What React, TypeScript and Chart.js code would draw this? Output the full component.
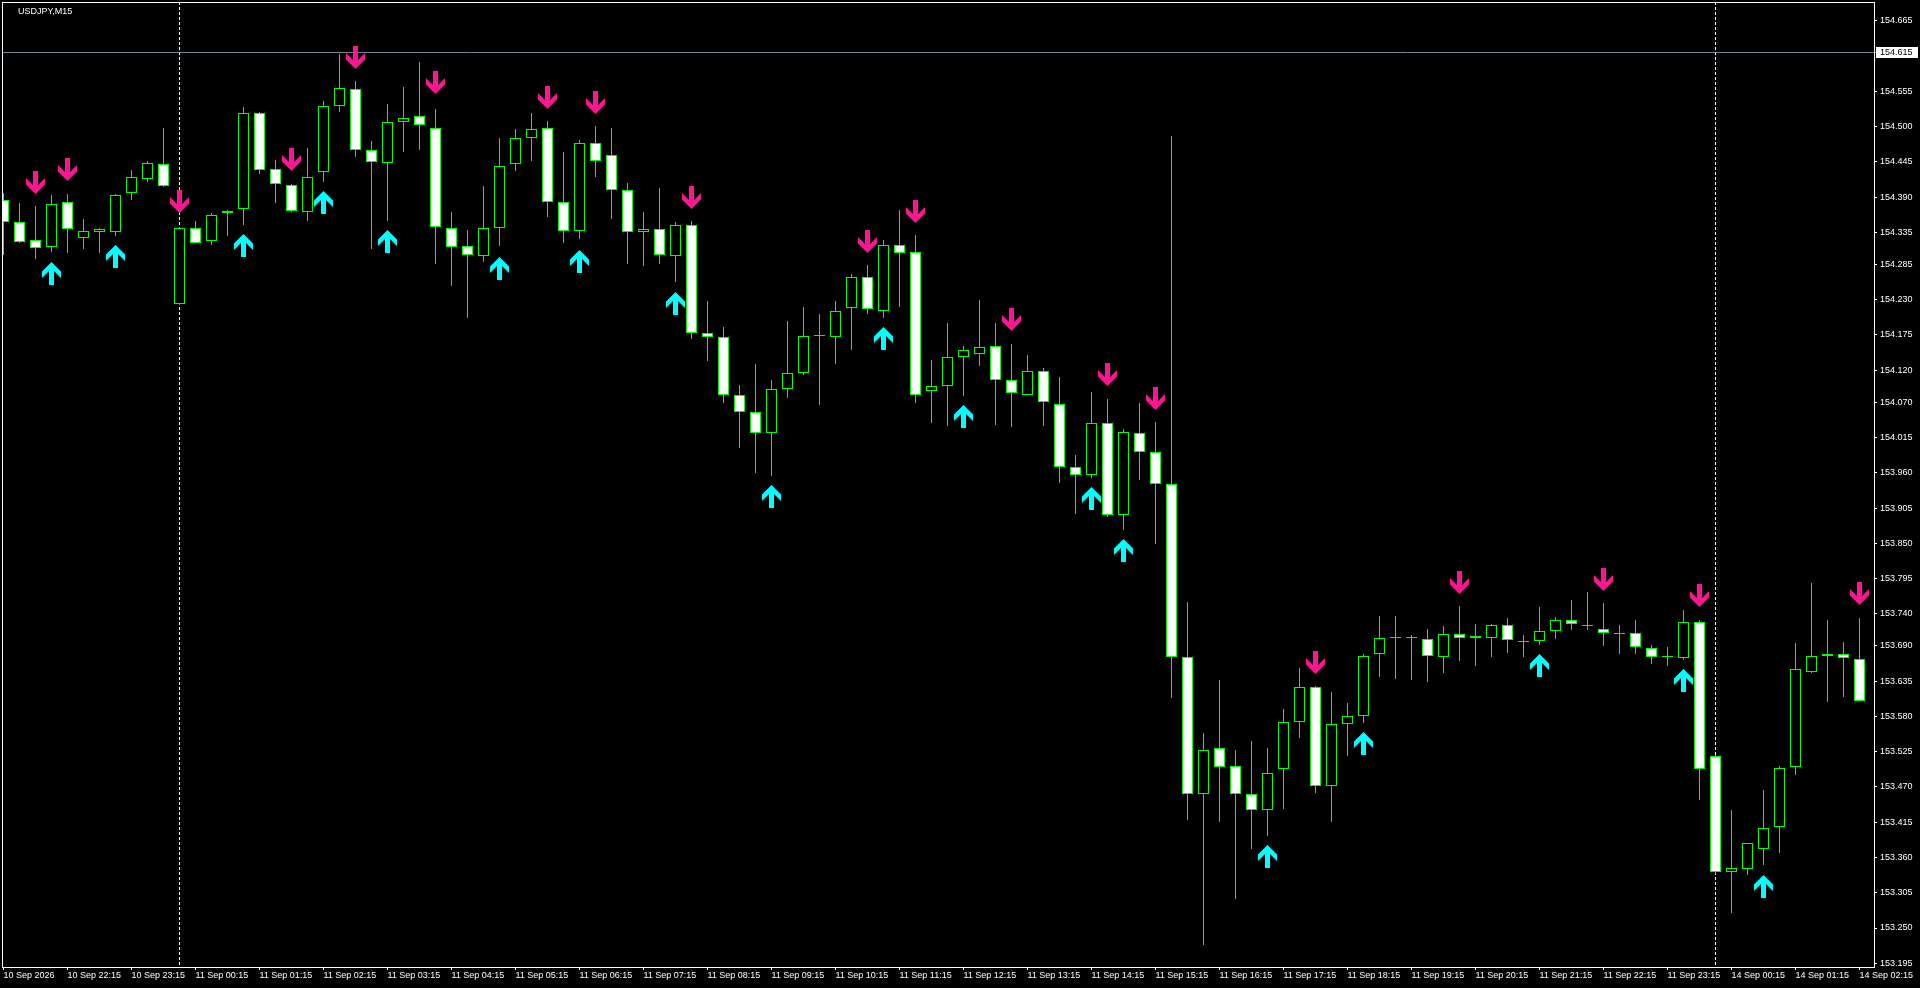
import React, { useEffect, useRef } from "react";
import { Chart, registerables } from "chart.js";

Chart.register(...registerables);

// ---- Data (USDJPY M15), bar 0 = 10 Sep 21:15 ----
const opens = [
  154.385, 154.351, 154.323, 154.312, 154.383, 154.326, 154.336, 154.336, 154.397, 154.418,
  154.441, 154.223, 154.341, 154.321, 154.369, 154.372, 154.521, 154.433, 154.409, 154.366,
  154.429, 154.532, 154.558, 154.464, 154.443, 154.507, 154.516, 154.497, 154.341, 154.313,
  154.298, 154.341, 154.441, 154.482, 154.497, 154.383, 154.337, 154.474, 154.455, 154.401,
  154.335, 154.340, 154.298, 154.346, 154.178, 154.171, 154.082, 154.054, 154.022, 154.090,
  154.115, 154.174, 154.171, 154.217, 154.266, 154.212, 154.316, 154.304, 154.087, 154.096,
  154.140, 154.146, 154.157, 154.104, 154.082, 154.118, 154.068, 153.969, 153.956, 154.037,
  153.894, 154.022, 153.992, 153.943, 153.672, 153.459, 153.530, 153.502, 153.459, 153.434,
  153.498, 153.572, 153.626, 153.472, 153.568, 153.581, 153.677, 153.703, 153.703, 153.700,
  153.673, 153.708, 153.703, 153.703, 153.722, 153.696, 153.697, 153.713, 153.730, 153.721,
  153.716, 153.708, 153.710, 153.686, 153.675, 153.671, 153.727, 153.519, 153.338, 153.342,
  153.374, 153.407, 153.501, 153.650, 153.675, 153.678, 153.669,
];
const highs = [
  154.397, 154.381, 154.376, 154.393, 154.395, 154.356, 154.341, 154.395, 154.432, 154.446,
  154.498, 154.344, 154.353, 154.365, 154.370, 154.530, 154.522, 154.448, 154.410, 154.467,
  154.540, 154.613, 154.571, 154.477, 154.535, 154.562, 154.600, 154.528, 154.366, 154.339,
  154.407, 154.482, 154.496, 154.521, 154.509, 154.460, 154.479, 154.501, 154.498, 154.412,
  154.367, 154.404, 154.351, 154.353, 154.228, 154.187, 154.097, 154.130, 154.105, 154.197,
  154.219, 154.208, 154.228, 154.270, 154.284, 154.323, 154.370, 154.331, 154.136, 154.194,
  154.158, 154.229, 154.194, 154.161, 154.144, 154.123, 154.110, 153.988, 154.086, 154.075,
  154.028, 154.069, 154.039, 154.485, 153.759, 153.554, 153.637, 153.528, 153.542, 153.531,
  153.592, 153.656, 153.627, 153.618, 153.601, 153.678, 153.737, 153.737, 153.707, 153.716,
  153.721, 153.752, 153.724, 153.724, 153.734, 153.707, 153.751, 153.735, 153.762, 153.774,
  153.757, 153.723, 153.730, 153.691, 153.688, 153.746, 153.730, 153.520, 153.434, 153.382,
  153.465, 153.502, 153.695, 153.788, 153.730, 153.696, 153.734,
];
const lows = [
  154.299, 154.319, 154.294, 154.305, 154.303, 154.309, 154.302, 154.330, 154.386, 154.414,
  154.406, 154.222, 154.319, 154.316, 154.330, 154.347, 154.426, 154.380, 154.367, 154.353,
  154.414, 154.523, 154.453, 154.309, 154.353, 154.461, 154.463, 154.285, 154.252, 154.202,
  154.289, 154.313, 154.430, 154.447, 154.359, 154.319, 154.324, 154.422, 154.355, 154.285,
  154.283, 154.285, 154.258, 154.169, 154.135, 154.069, 153.998, 153.960, 153.955, 154.076,
  154.112, 154.066, 154.130, 154.152, 154.207, 154.202, 154.219, 154.069, 154.037, 154.033,
  154.079, 154.127, 154.035, 154.032, 154.082, 154.033, 153.944, 153.895, 153.952, 153.891,
  153.870, 153.949, 153.849, 153.608, 153.418, 153.224, 153.415, 153.296, 153.374, 153.394,
  153.435, 153.547, 153.461, 153.416, 153.519, 153.569, 153.642, 153.639, 153.637, 153.634,
  153.648, 153.667, 153.659, 153.672, 153.679, 153.673, 153.692, 153.701, 153.715, 153.715,
  153.690, 153.678, 153.678, 153.661, 153.658, 153.668, 153.449, 153.335, 153.274, 153.332,
  153.349, 153.367, 153.488, 153.648, 153.603, 153.611, 153.604,
];
const closes = [
  154.351, 154.320, 154.310, 154.379, 154.340, 154.337, 154.340, 154.393, 154.421, 154.443,
  154.407, 154.341, 154.319, 154.362, 154.365, 154.521, 154.432, 154.411, 154.369, 154.421,
  154.532, 154.560, 154.464, 154.444, 154.507, 154.513, 154.502, 154.343, 154.312, 154.299,
  154.341, 154.439, 154.482, 154.496, 154.383, 154.337, 154.474, 154.447, 154.401, 154.335,
  154.340, 154.299, 154.346, 154.178, 154.171, 154.081, 154.054, 154.022, 154.090, 154.115,
  154.174, 154.174, 154.213, 154.266, 154.215, 154.316, 154.302, 154.082, 154.095, 154.140,
  154.151, 154.156, 154.104, 154.084, 154.118, 154.070, 153.969, 153.956, 154.037, 153.894,
  154.023, 153.992, 153.942, 153.672, 153.459, 153.527, 153.501, 153.459, 153.434, 153.491,
  153.572, 153.626, 153.472, 153.568, 153.581, 153.675, 153.703, 153.703, 153.703, 153.675,
  153.708, 153.703, 153.705, 153.722, 153.699, 153.697, 153.713, 153.730, 153.724, 153.722,
  153.710, 153.708, 153.688, 153.673, 153.672, 153.727, 153.498, 153.337, 153.343, 153.382,
  153.406, 153.499, 153.654, 153.675, 153.678, 153.671, 153.604,
];

// signal arrows (bar index, price at arrow tip)
const sellBars = [2, 4, 11, 18, 22, 27, 34, 37, 43, 54, 57, 63, 69, 72, 82, 91, 100, 106, 116];
const sellPrices = [
  154.394, 154.415, 154.365, 154.430, 154.589, 154.550, 154.528, 154.520, 154.371, 154.303,
  154.350, 154.181, 154.095, 154.058, 153.646, 153.771, 153.776, 153.751, 153.754,
];
const buyBars = [3, 7, 15, 20, 24, 31, 36, 42, 48, 55, 60, 68, 70, 79, 85, 96, 105, 110];
const buyPrices = [
  154.289, 154.316, 154.333, 154.400, 154.339, 154.297, 154.308, 154.242, 153.941, 154.187,
  154.065, 153.938, 153.856, 153.380, 153.555, 153.678, 153.654, 153.333,
];

// axis ticks
const xTickBars = [0, 4, 8, 12, 16, 20, 24, 28, 32, 36, 40, 44, 48, 52, 56, 60, 64, 68, 72, 76, 80, 84, 88, 92, 96, 100, 104, 108, 112, 116];
const xTickLabels = [
  "10 Sep 2026", "10 Sep 22:15", "10 Sep 23:15", "11 Sep 00:15", "11 Sep 01:15", "11 Sep 02:15",
  "11 Sep 03:15", "11 Sep 04:15", "11 Sep 05:15", "11 Sep 06:15", "11 Sep 07:15", "11 Sep 08:15",
  "11 Sep 09:15", "11 Sep 10:15", "11 Sep 11:15", "11 Sep 12:15", "11 Sep 13:15", "11 Sep 14:15",
  "11 Sep 15:15", "11 Sep 16:15", "11 Sep 17:15", "11 Sep 18:15", "11 Sep 19:15", "11 Sep 20:15",
  "11 Sep 21:15", "11 Sep 22:15", "11 Sep 23:15", "14 Sep 00:15", "14 Sep 01:15", "14 Sep 02:15",
];
const yTickValues = [
  154.665, 154.555, 154.5, 154.445, 154.39, 154.335, 154.285, 154.23, 154.175, 154.12,
  154.07, 154.015, 153.96, 153.905, 153.85, 153.795, 153.74, 153.69, 153.635, 153.58,
  153.525, 153.47, 153.415, 153.36, 153.305, 153.25, 153.195,
];
const daySeparators = [11, 107];
const symbolTitle = "USDJPY,M15";
const markedPrice = 154.615;

// visible range
const X_MIN = -0.09375;
const X_MAX = 116.90625;
const Y_MIN = 153.1892;
const Y_MAX = 154.6942;

const FONT = '"Liberation Sans", Arial, sans-serif';
const LIME = "#00ff00";

function makeArrow(down: boolean, color: string): HTMLCanvasElement {
  const c = document.createElement("canvas");
  c.width = 19;
  c.height = 48;
  const g = c.getContext("2d")!;
  const pts = [
    [9.5, 24], [19, 14.5], [19, 8], [12, 15], [12, 1], [7, 1], [7, 15], [0, 8], [0, 14.5],
  ];
  g.beginPath();
  pts.forEach(([x, y], k) => {
    const yy = down ? y : 48 - y;
    if (k === 0) g.moveTo(x, yy);
    else g.lineTo(x, yy);
  });
  g.closePath();
  g.fillStyle = color;
  g.fill();
  return c;
}

const snapPlugin = {
  id: "snap",
  beforeDatasetsDraw(chart: any) {
    chart.data.datasets.forEach((_ds: any, di: number) => {
      const meta = chart.getDatasetMeta(di);
      meta.data.forEach((el: any) => {
        if (meta.type === "bar") {
          const y = Math.round(el.y);
          let b = Math.round(el.base);
          if (y === b) b = y + 1;
          el.y = y;
          el.base = b;
        } else {
          el.y = Math.round(el.y);
        }
      });
    });
  },
};

const decorPlugin = {
  id: "decor",
  beforeDraw(chart: any) {
    const ctx = chart.ctx;
    ctx.save();
    ctx.fillStyle = "#000";
    ctx.fillRect(0, 0, chart.width, chart.height);
    ctx.restore();
  },
  beforeDatasetsDraw(chart: any) {
    const ctx = chart.ctx;
    const ca = chart.chartArea;
    const xs = chart.scales.x;
    const ys = chart.scales.y;
    ctx.save();
    // day separators
    ctx.strokeStyle = "#ffffff";
    ctx.lineWidth = 1;
    ctx.setLineDash([3, 2]);
    daySeparators.forEach((b) => {
      const x = Math.floor(xs.getPixelForValue(b)) + 0.5;
      ctx.beginPath();
      ctx.moveTo(x, ca.top);
      ctx.lineTo(x, ca.bottom);
      ctx.stroke();
    });
    ctx.setLineDash([]);
    // marked price line
    const py = Math.floor(ys.getPixelForValue(markedPrice)) + 0.5;
    ctx.strokeStyle = "#778899";
    ctx.beginPath();
    ctx.moveTo(ca.left, py);
    ctx.lineTo(ca.right + 2, py);
    ctx.stroke();
    ctx.restore();
  },
  afterDraw(chart: any) {
    const ctx = chart.ctx;
    const ca = chart.chartArea;
    const ys = chart.scales.y;
    ctx.save();
    ctx.strokeStyle = "#ffffff";
    ctx.lineWidth = 1;
    ctx.strokeRect(ca.left + 0.5, ca.top + 0.5, ca.right - ca.left, ca.bottom - ca.top);
    // title
    ctx.fillStyle = "#ffffff";
    ctx.font = `9px ${FONT}`;
    ctx.textBaseline = "alphabetic";
    ctx.textAlign = "left";
    ctx.fillText(symbolTitle, 18, 14);
    // price box
    const py = Math.floor(ys.getPixelForValue(markedPrice)) + 0.5;
    ctx.fillStyle = "#ffffff";
    ctx.fillRect(ca.right + 2, Math.round(py - 5.5), 42, 11);
    ctx.fillStyle = "#000000";
    ctx.textBaseline = "middle";
    ctx.fillText(markedPrice.toFixed(3), ca.right + 6, py);
    ctx.restore();
  },
};

export default function App() {
  const ref = useRef<HTMLCanvasElement>(null);
  useEffect(() => {
    const down = makeArrow(true, "#ff1493");
    const up = makeArrow(false, "#00ffff");
    const gridOpts = {
      display: true,
      offset: false,
      drawOnChartArea: false,
      drawTicks: true,
      tickLength: 3,
      color: "#ffffff",
      tickColor: "#ffffff",
      lineWidth: 1,
    };
    const chart = new Chart(ref.current!, {
      type: "bar",
      data: {
        datasets: [
          {
            type: "bar",
            label: "wick",
            data: highs.map((h, i) => ({ x: i, y: [lows[i], h] })) as any,
            backgroundColor: LIME,
            borderWidth: 0,
            barThickness: 1,
            grouped: false,
            minBarLength: 1,
            inflateAmount: 0,
            order: 3,
          } as any,
          {
            type: "bar",
            label: "body",
            data: opens.map((o, i) => ({ x: i, y: [o, closes[i]] })) as any,
            backgroundColor: (c: any) => (closes[c.dataIndex] > opens[c.dataIndex] ? "#000000" : "#ffffff"),
            borderColor: LIME,
            borderWidth: 1,
            borderSkipped: false,
            barThickness: 11,
            grouped: false,
            minBarLength: 1,
            inflateAmount: 0,
            order: 2,
          } as any,
          {
            type: "scatter",
            label: "sell",
            data: sellBars.map((b, k) => ({ x: b, y: sellPrices[k] })),
            pointStyle: down,
            pointRadius: 1,
            pointBorderWidth: 0,
            order: 1,
          } as any,
          {
            type: "scatter",
            label: "buy",
            data: buyBars.map((b, k) => ({ x: b, y: buyPrices[k] })),
            pointStyle: up,
            pointRadius: 1,
            pointBorderWidth: 0,
            order: 1,
          } as any,
        ],
      },
      options: {
        responsive: false,
        animation: false,
        events: [],
        devicePixelRatio: 1,
        layout: { autoPadding: false, padding: { left: 2, top: 2, right: 0, bottom: 0 } },
        plugins: { legend: { display: false }, tooltip: { enabled: false }, title: { display: false } },
        scales: {
          x: {
            type: "linear",
            position: "bottom",
            min: X_MIN,
            max: X_MAX,
            offset: false,
            grid: gridOpts,
            border: { display: false },
            ticks: {
              autoSkip: false,
              maxRotation: 0,
              minRotation: 0,
              align: "start",
              padding: 0,
              color: "#ffffff",
              font: { family: FONT, size: 9 },
              callback: (_v: any, i: number) => xTickLabels[i] ?? "",
            },
            afterBuildTicks: (s: any) => {
              s.ticks = xTickBars.map((v) => ({ value: v }));
            },
            afterFit: (s: any) => {
              s.height = 21;
              s.paddingLeft = 0;
              s.paddingRight = 0;
            },
          } as any,
          y: {
            type: "linear",
            position: "right",
            min: Y_MIN,
            max: Y_MAX,
            beginAtZero: false,
            grid: gridOpts,
            border: { display: false },
            ticks: {
              autoSkip: false,
              padding: 3,
              color: "#ffffff",
              font: { family: FONT, size: 9 },
              callback: (v: any) => Number(v).toFixed(3),
            },
            afterBuildTicks: (s: any) => {
              s.ticks = yTickValues.map((v) => ({ value: v }));
            },
            afterFit: (s: any) => {
              s.width = 46;
              s.paddingTop = 0;
              s.paddingBottom = 0;
            },
          } as any,
        },
      },
      plugins: [decorPlugin, snapPlugin],
    } as any);
    return () => chart.destroy();
  }, []);
  return (
    <div style={{ position: "fixed", left: 0, top: 0, width: 1920, height: 988, background: "#000" }}>
      <canvas ref={ref} width={1920} height={988} style={{ display: "block", width: 1920, height: 988 }} />
    </div>
  );
}
